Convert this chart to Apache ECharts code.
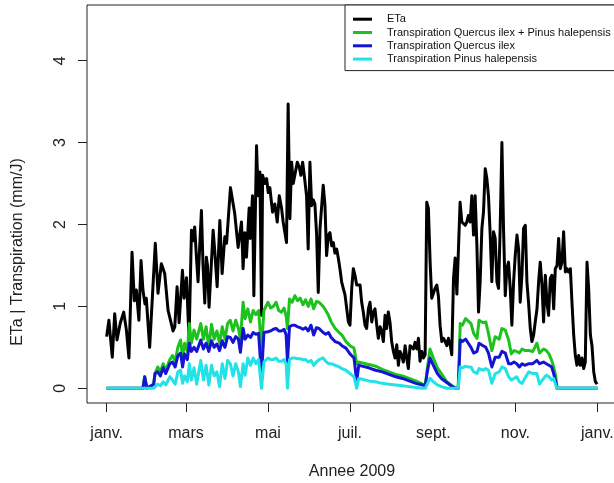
<!DOCTYPE html>
<html>
<head>
<meta charset="utf-8">
<script src="https://cdn.jsdelivr.net/npm/echarts@6/dist/echarts.min.js"></script>
<style>html,body{margin:0;padding:0;background:#fff;}#c{width:614px;height:483px;}</style>
</head>
<body>
<div id="c"></div>
<script>
// ---- data ----
const monthTicks = [0, 59, 120, 181, 243, 304, 365];
const monthLabels = ['janv.', 'mars', 'mai', 'juil.', 'sept.', 'nov.', 'janv.'];
const yTicks = [0, 1, 2, 3, 4];
const seriesNames = ['ETa', 'Transpiration Quercus ilex + Pinus halepensis', 'Transpiration Quercus ilex', 'Transpiration Pinus halepensis'];

const etaDay = [0,1.7,4.2,6,7.7,10.2,12.7,14.7,16.6,18.9,20.6,22.1,24,25.6,27,28.5,29.5,32,36.2,38.2,40.7,43.2,45.7,49.4,50.7,52.4,53.9,56.4,57.6,59.4,61.3,63.1,64.3,65.5,66.8,68,70.5,71.7,73,74.2,75,76.2,79.2,80.4,82.2,84.2,85.9,87.9,89.2,92.1,95.3,97.8,99.1,100.3,101.5,102.8,104,106,106.8,108.5,109.5,111.5,112.7,114,115.2,116,117.7,119,120.2,121.4,123.4,125.1,126.9,128.4,130.1,131.3,133.8,135,136.3,137.6,138.8,140,141.8,143.3,144.5,145.8,147,148.7,149.9,151.2,152.5,153.7,154.9,156.2,157.4,158.7,161.1,162.4,163.6,164.9,166.1,167.4,168.6,169.8,171.1,172.3,173.6,174.8,176,177.3,178.5,179.8,181,182.3,183.5,184.7,186,187.2,188.5,189.7,190.9,192.2,193.4,194.7,195.9,197.2,198.4,199.6,200.9,202.1,203.4,204.6,205.8,207.1,208.3,209.5,210.8,212,213.3,214.5,215.8,217,218.2,219.5,220.7,222,223.2,224.4,225.7,226.9,228.2,229.4,230.7,231.9,233.1,234.4,235.6,236.9,238.1,239.3,240.6,241.8,243.1,244.3,245.6,246.8,248,249.3,250.5,251.8,253,254.2,255.5,256.7,258,259.2,260.5,261.7,262.9,264.2,265.4,266.7,267.9,269.1,270.4,271.6,272.9,274.1,275.4,276.6,277.8,279.1,280.3,281.6,282.8,284,285.3,286.5,287.8,289,290.3,291.5,292.7,294,295.2,296.5,297.7,298.9,300.2,301.4,302.7,303.9,305.2,306.4,307.6,308.9,310.1,311.4,312.6,313.8,315.1,316.3,317.6,318.8,320.1,321.3,322.5,323.8,325,326.3,327.5,328.7,330,331.2,332.5,333.7,335,336.2,337.4,338.7,339.9,341.2,342.4,343.6,344.9,346.1,347.4,348.6,349.8,351.1,352.3,353.6,354.8,356,357.3,358.5,359.8,361,362.3,363.5,364.8];
const etaVal = [0.63,0.83,0.38,0.91,0.59,0.8,0.93,0.71,0.37,1.66,1.07,1.2,0.83,1.56,1.2,1.03,1.1,0.5,1.77,1.16,1.52,1.4,0.95,0.7,0.75,1.24,0.8,1.44,1.1,1.35,0.59,1.93,1.8,1.97,1.6,1.3,2.17,1.5,1.04,1.6,1.5,0.99,1.93,1.68,1.24,2.05,1.4,1.85,1.77,2.45,2.13,1.72,1.74,2.03,1.46,1.9,1.6,2.2,1.83,2.35,1.13,2.96,2.35,2.64,0.89,2.6,2.5,2.56,2.39,2.45,2.15,2.25,2.03,2.35,2.2,2.03,1.78,3.47,2.07,2.76,2.5,2.48,2.76,2.7,2.6,2.76,2.6,2.35,1.7,2.76,2.23,2.3,2.25,1.87,1.17,1.95,2.48,2.23,1.62,1.87,1.9,1.74,1.78,1.65,1.7,1.59,1.45,1.3,1.22,1.14,1.14,0.81,0.77,1.22,1.46,1.38,1.26,1.26,1.26,1.05,0.93,0.77,0.73,0.97,1.05,0.81,0.93,0.97,0.77,0.61,0.75,0.7,0.57,0.89,0.73,0.93,0.8,0.57,0.45,0.37,0.53,0.28,0.45,0.4,0.32,0.52,0.37,0.24,0.52,0.5,0.48,0.56,0.48,0.61,0.33,0.45,0.37,0.41,2.27,2.2,1.54,1.1,1.12,1.22,1.26,1.12,0.77,0.57,0.61,0.57,0.52,0.61,0.53,0.41,1.34,1.59,1.15,1.71,2.27,2.03,2.03,1.99,2.03,2.11,2.03,2.35,1.87,2.35,1.74,0.93,1.3,1.95,2.15,2.68,2.56,2.35,1.87,1.3,1.91,1.83,1.3,1.22,1.95,3.0,1.95,1.13,1.46,1.54,1.22,0.77,1.3,1.62,1.87,1.7,1.05,1.38,1.95,1.99,1.3,1.05,0.73,0.57,0.65,0.81,0.97,1.3,1.54,1.26,0.81,1.38,1.05,0.89,1.34,1.38,0.97,1.46,1.5,1.83,1.46,1.54,1.91,1.42,1.46,1.42,1.46,1.05,0.65,0.4,0.28,0.4,0.28,0.37,0.24,0.32,1.54,1.22,0.65,0.52,0.2,0.08,0.05];

const trDay = [0,27,28.3,30,35,36,38,40,42,44,47,49,51,53,55,56.5,58,60,61.5,63,65,67,70,72,74,76,78,80,82,84,86,88,90,92,94,96,98,99.5,101.5,103,105,107,109,111,113,115.2,117,120,122,124,126,128,130,132,133.5,134.5,136,138,140,142,144,146,148,150,152,154,156,158,161,163,165,167,170,173,175,178,181,184,186,187.5,190,195,200,205,210,215,220,225,230,235,237,238.5,240.5,243,246,249,253,257,259.5,261.5,263,264.5,267,269,271,273,275.5,277,280,282,284,286.5,289,292,294,296.5,299,301,303,305,307,309,311,314,317,320,322,325,327,329,331,332.5,334,335,365];
const greenVal = [0,0,0.14,0,0.05,0.18,0.26,0.2,0.3,0.22,0.35,0.4,0.33,0.5,0.59,0.38,0.55,0.45,0.79,0.55,0.71,0.6,0.79,0.6,0.75,0.5,0.78,0.6,0.7,0.55,0.75,0.6,0.79,0.83,0.7,0.83,0.73,0.6,1.05,0.85,0.97,0.81,0.95,0.9,0.95,0.49,0.95,1.05,0.98,1.0,1.05,0.95,0.93,0.98,0.88,0.73,1.09,1.05,1.13,1.07,1.1,1.02,1.08,1.0,1.09,0.97,1.06,1.05,1.0,0.95,0.89,0.81,0.73,0.68,0.65,0.57,0.52,0.49,0.3,0.32,0.31,0.29,0.27,0.23,0.2,0.17,0.15,0.12,0.09,0.05,0.04,0.24,0.48,0.37,0.25,0.18,0.08,0.03,0,0,0.79,0.77,0.85,0.82,0.79,0.67,0.61,0.83,0.8,0.81,0.67,0.46,0.63,0.6,0.73,0.71,0.59,0.42,0.46,0.45,0.43,0.48,0.46,0.46,0.45,0.55,0.43,0.48,0.46,0.42,0.34,0.26,0.15,0,0];
const blueVal = [0,0,0.14,0,0.05,0.18,0.2,0.15,0.25,0.18,0.3,0.32,0.26,0.4,0.43,0.26,0.42,0.35,0.55,0.45,0.5,0.45,0.59,0.48,0.55,0.45,0.58,0.5,0.54,0.46,0.58,0.5,0.63,0.62,0.56,0.63,0.6,0.44,0.73,0.6,0.65,0.62,0.68,0.66,0.67,0.16,0.68,0.69,0.7,0.72,0.73,0.7,0.7,0.72,0.65,0.32,0.75,0.77,0.77,0.75,0.74,0.72,0.74,0.7,0.77,0.65,0.74,0.73,0.68,0.66,0.68,0.62,0.57,0.55,0.52,0.49,0.42,0.37,0.08,0.28,0.27,0.25,0.22,0.2,0.17,0.14,0.12,0.09,0.06,0.04,0.03,0.2,0.37,0.28,0.18,0.12,0.07,0.02,0,0,0.59,0.57,0.6,0.55,0.5,0.43,0.45,0.55,0.52,0.5,0.43,0.26,0.38,0.38,0.45,0.43,0.3,0.3,0.32,0.3,0.26,0.3,0.28,0.3,0.3,0.34,0.3,0.32,0.3,0.28,0.26,0.18,0.08,0,0];
const cyanVal = [0,0,0,0,0,0.02,0.05,0.03,0.08,0.04,0.14,0.1,0.05,0.2,0.22,0.06,0.15,0.08,0.3,0.1,0.25,0.05,0.34,0.1,0.28,0.04,0.28,0.15,0.2,0.02,0.3,0.12,0.34,0.3,0.15,0.3,0.2,0.02,0.3,0.16,0.37,0.28,0.37,0.3,0.35,0,0.32,0.37,0.35,0.35,0.37,0.33,0.33,0.35,0.3,0,0.35,0.37,0.37,0.36,0.36,0.35,0.35,0.32,0.34,0.28,0.32,0.35,0.37,0.33,0.3,0.3,0.28,0.26,0.24,0.22,0.18,0.14,0,0.12,0.11,0.09,0.08,0.06,0.05,0.04,0.03,0.02,0.01,0,0,0.05,0.12,0.08,0.04,0.02,0,0,0,0,0.26,0.25,0.27,0.26,0.26,0.2,0.18,0.24,0.22,0.24,0.22,0.06,0.18,0.2,0.26,0.24,0.14,0.1,0.12,0.14,0.08,0.06,0.12,0.2,0.18,0.18,0.05,0.12,0.16,0.14,0.1,0.12,0.04,0,0];

// ---- chart ----
const FONT = '"Liberation Sans", Arial, Helvetica, sans-serif';
const colors = ['#000000', '#1EC21E', '#1414D2', '#22E2E8'];
const pair = (xs, ys) => xs.map((d, i) => [d, ys[i]]);
const chart = echarts.init(document.getElementById('c'), null, {renderer: 'canvas'});
const valueSets = [pair(etaDay, etaVal), pair(trDay, greenVal), pair(trDay, blueVal), pair(trDay, cyanVal)];

chart.setOption({
  animation: false,
  backgroundColor: '#ffffff',
  textStyle: {fontFamily: FONT},
  grid: {left: 87, right: -3, top: 5, bottom: 80, show: true, borderColor: '#222', borderWidth: 1, backgroundColor: 'transparent', containLabel: false, outerBoundsMode: 'none'},
  legend: {
    orient: 'vertical', left: 345, top: 5,
    icon: 'rect', itemWidth: 19, itemHeight: 3, itemGap: 0.3,
    padding: [7.7, 8, 5, 8],
    borderColor: '#222', borderWidth: 1, borderRadius: 0, backgroundColor: '#fff',
    textStyle: {fontSize: 11, lineHeight: 13, color: '#111', fontFamily: FONT, padding: [0, 0, 0, 10]},
    data: seriesNames.map((n, i) => ({name: n, itemStyle: {color: colors[i]}}))
  },
  xAxis: {
    type: 'value', min: -14.6, max: 379.6,
    name: 'Annee 2009', nameLocation: 'middle', nameGap: 61,
    nameTextStyle: {fontSize: 16, color: '#222', fontFamily: FONT},
    axisLine: {show: false, onZero: false},
    axisTick: {show: true, length: 9, customValues: monthTicks, lineStyle: {color: '#222', width: 1}},
    axisLabel: {customValues: monthTicks, fontSize: 16, color: '#222', margin: 23, fontFamily: FONT,
      formatter: v => monthLabels[monthTicks.indexOf(v)]},
    splitLine: {show: false}
  },
  yAxis: {
    type: 'value', min: -0.18, max: 4.68,
    name: 'ETa | Transpiration (mm/J)', nameLocation: 'middle', nameGap: 61, nameRotate: 90,
    nameTextStyle: {fontSize: 16, color: '#222', fontFamily: FONT, padding: [0, 96, 0, 0]},
    axisLine: {show: false, onZero: false},
    axisTick: {show: true, length: 9, customValues: yTicks, lineStyle: {color: '#222', width: 1}},
    axisLabel: {customValues: yTicks, rotate: 90, fontSize: 16, color: '#222', margin: 18, fontFamily: FONT,
      formatter: v => String(v)},
    splitLine: {show: false}
  },
  series: seriesNames.map((n, i) => ({
    name: n, type: 'line', data: valueSets[i], symbol: 'none', showSymbol: false,
    lineStyle: {color: colors[i], width: 3, join: 'round'}, itemStyle: {color: colors[i]},
    clip: true, z: 2 + i
  }))
});
</script>
</body>
</html>
